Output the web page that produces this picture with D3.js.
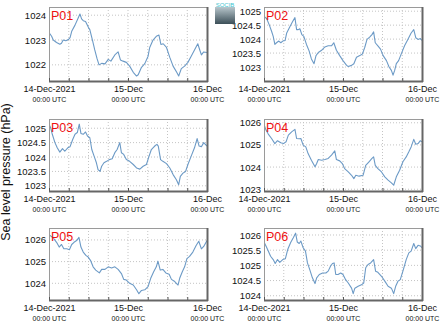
<!DOCTYPE html>
<html>
<head>
<meta charset="utf-8">
<script src="https://cdn.jsdelivr.net/npm/d3@7"></script>
<style>
  html, body { margin: 0; padding: 0; background: #fff; }
  svg { display: block; font-family: "Liberation Sans", Arial, sans-serif; }
</style>
</head>
<body>
<script>
// Sea level pressure at six stations, 14-16 Dec 2021
// each series: [hours since 14-Dec 00:00 UTC, hPa]
const stations = ["P01", "P02", "P03", "P04", "P05", "P06"]

const p01 = [[0,1023.3],[0.8,1023.15],[1.3,1023.0],[2.3,1022.9],[3.3,1022.83],[3.8,1022.87],[4.3,1023.0],[5.1,1022.97],[5.9,1023.02],[6.4,1023.1],[6.9,1023.35],[7.9,1023.6],[8.9,1023.9],[9.4,1024.05],[9.9,1023.85],[10.4,1023.78],[11.1,1023.75],[12.0,1023.5],[12.4,1023.42],[13.2,1023.0],[13.9,1022.6],[14.6,1022.25],[15.2,1022.0],[16.0,1022.06],[17.0,1022.04],[18.0,1022.22],[18.8,1022.15],[20.0,1022.4],[21.0,1022.52],[21.7,1022.2],[22.5,1022.15],[23.5,1022.1],[24.5,1021.95],[25.6,1021.7],[26.6,1021.55],[27.1,1021.6],[28.1,1021.9],[29.1,1022.05],[30.1,1022.35],[30.6,1022.7],[31.6,1023.0],[32.6,1023.15],[33.4,1023.2],[34.0,1022.82],[34.7,1022.85],[35.7,1022.7],[36.7,1022.3],[37.7,1021.95],[38.8,1021.7],[39.4,1021.55],[40.2,1021.85],[41.2,1021.95],[42.2,1022.1],[43.2,1022.35],[44.2,1022.6],[45.2,1022.85],[45.8,1022.6],[46.3,1022.4],[47.0,1022.52],[48,1022.5]]

const p02 = [[0,1024.81],[0.8,1024.74],[1.6,1024.51],[2.3,1024.28],[2.8,1024.1],[3.3,1023.81],[3.8,1023.87],[4.5,1023.93],[5.1,1023.87],[5.7,1023.93],[6.4,1023.95],[6.9,1024.22],[7.9,1024.45],[8.7,1024.63],[9.4,1024.77],[9.9,1024.34],[10.4,1024.34],[10.9,1024.37],[11.5,1024.16],[12.1,1024.1],[12.9,1023.81],[13.7,1023.58],[14.4,1023.29],[15.2,1023.12],[15.8,1023.41],[16.5,1023.52],[17.5,1023.6],[18.5,1023.72],[19.5,1023.76],[20.5,1023.76],[21.2,1023.87],[22.0,1023.6],[23.0,1023.41],[24.0,1023.23],[25.1,1023.06],[25.6,1023.02],[26.6,1023.06],[27.3,1023.12],[28.1,1023.35],[29.1,1023.41],[29.9,1023.47],[30.6,1023.7],[31.3,1023.99],[32.1,1024.07],[32.8,1024.16],[33.3,1024.26],[33.8,1023.87],[34.6,1023.76],[35.4,1023.64],[36.2,1023.41],[37.2,1023.23],[38.0,1023.0],[38.7,1022.88],[39.2,1022.71],[39.7,1022.88],[40.2,1023.12],[40.9,1023.23],[41.7,1023.47],[42.7,1023.76],[43.7,1023.99],[44.7,1024.22],[45.5,1024.34],[46.1,1024.05],[46.8,1023.99],[47.5,1024.02],[48,1023.95]]

const p03 = [[0,1025.14],[0.5,1025.02],[1.0,1024.79],[1.8,1024.5],[2.5,1024.32],[3.3,1024.17],[4.1,1024.29],[4.8,1024.2],[5.7,1024.32],[6.4,1024.36],[7.2,1024.61],[7.9,1024.79],[8.6,1024.85],[9.2,1025.14],[9.7,1024.82],[10.4,1024.79],[11.1,1024.87],[11.7,1024.73],[12.4,1024.67],[13.0,1024.26],[13.7,1024.03],[14.4,1023.8],[14.9,1023.56],[15.5,1023.5],[16.0,1023.68],[16.7,1023.8],[17.5,1023.85],[18.3,1023.91],[19.2,1023.94],[20.0,1024.15],[20.7,1024.26],[21.5,1024.5],[22.0,1024.15],[22.7,1024.09],[23.5,1023.91],[24.5,1023.85],[25.6,1023.74],[26.6,1023.62],[27.6,1023.58],[28.6,1023.68],[29.6,1023.74],[30.4,1024.03],[31.1,1024.26],[31.6,1024.32],[32.3,1024.4],[32.8,1024.44],[33.2,1024.38],[33.9,1023.91],[34.6,1023.85],[35.7,1023.77],[36.7,1023.62],[37.7,1023.39],[38.7,1023.21],[39.4,1023.04],[39.9,1023.33],[40.7,1023.44],[41.5,1023.5],[42.2,1023.74],[43.2,1024.03],[44.2,1024.32],[45.0,1024.64],[45.6,1024.38],[46.3,1024.36],[47.0,1024.5],[48,1024.38]]

const p04 = [[0,1025.94],[0.6,1025.67],[1.3,1025.49],[2.3,1025.29],[3.3,1025.06],[4.1,1025.19],[5.1,1025.1],[5.9,1025.06],[6.7,1025.14],[7.4,1025.44],[8.4,1025.59],[9.4,1025.7],[9.9,1025.29],[10.7,1025.28],[11.2,1025.29],[11.9,1024.99],[12.7,1024.91],[13.4,1024.61],[14.4,1024.31],[15.5,1024.01],[16.0,1024.16],[16.5,1024.34],[17.5,1024.31],[18.5,1024.34],[19.5,1024.39],[20.5,1024.54],[21.5,1024.73],[22.0,1024.34],[23.0,1024.28],[23.8,1024.16],[24.5,1023.93],[25.6,1023.78],[26.6,1023.63],[27.3,1023.48],[27.9,1023.63],[28.9,1023.59],[30.1,1023.63],[30.9,1024.08],[31.9,1024.24],[32.8,1024.39],[33.3,1024.46],[33.8,1024.08],[34.6,1023.93],[35.7,1023.78],[36.7,1023.56],[37.7,1023.41],[38.7,1023.29],[39.4,1023.18],[40.2,1023.56],[41.2,1023.86],[42.2,1024.24],[43.2,1024.46],[44.0,1024.69],[44.7,1024.91],[45.5,1025.25],[46.1,1025.03],[46.8,1025.06],[47.5,1025.19],[48,1025.14]]

const p05 = [[0,1026.24],[0.8,1026.15],[1.5,1026.05],[2.3,1025.89],[3.1,1025.67],[3.8,1025.79],[4.5,1025.59],[5.4,1025.59],[6.2,1025.55],[6.9,1025.79],[7.6,1025.89],[8.4,1025.97],[9.1,1026.12],[9.7,1025.67],[10.4,1025.44],[11.2,1025.29],[11.9,1025.21],[12.6,1025.06],[13.4,1024.76],[14.2,1024.61],[15.3,1024.48],[16.0,1024.64],[17.0,1024.64],[18.0,1024.76],[19.0,1024.71],[20.0,1024.76],[21.0,1024.64],[22.0,1024.45],[22.7,1024.18],[23.5,1024.15],[24.5,1024.0],[25.6,1023.92],[26.6,1023.7],[27.3,1023.52],[28.1,1023.67],[29.1,1023.7],[30.1,1023.85],[30.9,1024.23],[31.8,1024.53],[32.6,1024.76],[33.1,1025.02],[33.8,1024.61],[34.6,1024.64],[35.5,1024.48],[36.5,1024.42],[37.2,1024.18],[38.2,1024.08],[39.2,1023.92],[39.7,1024.23],[40.5,1024.53],[41.2,1024.76],[41.9,1025.14],[42.7,1025.24],[43.7,1025.44],[44.7,1025.74],[45.5,1025.94],[46.3,1025.59],[47.0,1025.7],[48,1025.97]]

const p06 = [[0,1025.77],[0.6,1025.64],[1.3,1025.47],[2.0,1025.3],[2.8,1025.19],[3.4,1025.06],[4.1,1025.19],[4.8,1025.1],[5.7,1025.19],[6.5,1025.22],[7.2,1025.52],[8.1,1025.75],[8.9,1025.91],[9.6,1026.06],[10.1,1025.77],[10.7,1025.72],[11.2,1025.8],[11.9,1025.58],[12.6,1025.47],[13.2,1025.08],[13.9,1024.86],[14.7,1024.59],[15.5,1024.4],[16.0,1024.59],[16.8,1024.7],[17.8,1024.75],[18.8,1024.75],[19.5,1024.81],[20.2,1024.97],[20.8,1025.06],[21.3,1025.08],[21.8,1024.7],[22.5,1024.7],[23.3,1024.75],[24.0,1024.7],[24.8,1024.53],[25.6,1024.42],[26.6,1024.25],[27.1,1024.07],[27.6,1024.25],[28.6,1024.31],[29.6,1024.36],[30.3,1024.42],[30.9,1024.92],[31.6,1025.03],[32.4,1025.08],[33.3,1025.19],[33.9,1024.81],[34.6,1024.77],[35.7,1024.64],[36.7,1024.48],[37.7,1024.31],[38.7,1024.25],[39.4,1024.07],[40.0,1024.31],[40.7,1024.48],[41.4,1024.53],[42.2,1024.81],[43.2,1025.19],[44.0,1025.41],[44.7,1025.47],[45.5,1025.72],[46.1,1025.55],[46.8,1025.66],[47.5,1025.64],[48,1025.58]]

const series = [p01, p02, p03, p04, p05, p06]

// y-axis limits and tick values per station (hPa)
const yLimits = [[1021.35, 1024.33], [1022.5, 1025.15], [1022.82, 1025.32], [1022.92, 1026.17], [1023.23, 1026.55], [1023.86, 1026.23]]
const yTickValues = [
  [1022, 1023, 1024],
  [1023, 1023.5, 1024, 1024.5, 1025],
  [1023, 1023.5, 1024, 1024.5, 1025],
  [1023, 1024, 1025, 1026],
  [1024, 1025, 1026],
  [1024, 1024.5, 1025, 1025.5, 1026]
]

const dayLabels = ["14-Dec-2021", "15-Dec", "16-Dec"]
const timeLabel = "00:00 UTC"
const yTitle = "Sea level pressure (hPa)"

const W = 441, H = 327
const colLeft = [49, 264]
const rowTop = [7, 119, 228]
const rowH = [74, 72, 72]
const plotW = 158
const lineColor = "#6c9ac6"

const t0 = Date.UTC(2021, 11, 14)
const HOUR = 3600e3
const toDate = h => new Date(t0 + h * HOUR)

const svg = d3.select("body").append("svg").attr("width", W).attr("height", H)

stations.forEach((name, i) => {
  const col = i % 2, row = Math.floor(i / 2)
  const w = plotW, h = rowH[row]

  const x = d3.scaleUtc().domain([toDate(0), toDate(48)]).range([0, w])
  const y = d3.scaleLinear().domain(yLimits[i]).range([h, 0])

  const g = svg.append("g").attr("transform", `translate(${colLeft[col]},${rowTop[row]})`)

  g.append("rect").attr("width", w).attr("height", h).attr("fill", "#fff")

  // dotted grid every 6 h and at each y tick
  const gridHours = d3.range(0, 49, 6).map(toDate)
  g.append("g")
    .selectAll("line")
    .data(gridHours.slice(1, -1))
    .join("line")
    .attr("x1", d => x(d)).attr("x2", d => x(d))
    .attr("y1", 0).attr("y2", h)
    .attr("stroke", "#c4c4c4")
    .attr("stroke-dasharray", "1,2")

  g.append("g")
    .selectAll("line")
    .data(yTickValues[i])
    .join("line")
    .attr("x1", 0).attr("x2", w)
    .attr("y1", d => y(d)).attr("y2", d => y(d))
    .attr("stroke", "#c4c4c4")
    .attr("stroke-dasharray", "1,2")

  // pressure trace
  const clipId = `clip-${name}`
  g.append("clipPath").attr("id", clipId)
    .append("rect").attr("width", w).attr("height", h)

  const line = d3.line()
    .x(d => x(toDate(d[0])))
    .y(d => y(d[1]))
    .curve(d3.curveLinear)

  g.append("path")
    .datum(series[i])
    .attr("clip-path", `url(#${clipId})`)
    .attr("fill", "none")
    .attr("stroke", lineColor)
    .attr("stroke-width", 1.1)
    .attr("stroke-linejoin", "round")
    .attr("d", line)

  // box: light top/left, heavier bottom/right
  g.append("rect")
    .attr("width", w).attr("height", h)
    .attr("fill", "none")
    .attr("stroke", "#9a9a9a")
    .attr("stroke-width", 1)
    .attr("shape-rendering", "crispEdges")

  // inward ticks on bottom
  g.append("g")
    .attr("transform", `translate(0,${h})`)
    .call(d3.axisBottom(x).tickValues(gridHours).tickSize(-3).tickFormat(""))
    .call(a => a.select(".domain").remove())
    .call(a => a.selectAll("line").attr("stroke", "#555"))

  g.append("line")
    .attr("x1", 0).attr("x2", w + 1)
    .attr("y1", h + 0.5).attr("y2", h + 0.5)
    .attr("stroke", "#666").attr("stroke-width", 2)
  g.append("line")
    .attr("x1", w + 0.5).attr("x2", w + 0.5)
    .attr("y1", 0).attr("y2", h + 1)
    .attr("stroke", "#666").attr("stroke-width", 2)

  // y axis labels
  g.append("g")
    .call(d3.axisLeft(y).tickValues(yTickValues[i]).tickSize(0).tickPadding(3).tickFormat(d3.format("~f")))
    .call(a => a.select(".domain").remove())
    .call(a => a.selectAll("text")
      .attr("font-size", 9.5)
      .attr("font-family", "Liberation Sans, Arial, sans-serif")
      .attr("fill", "#111"))

  // x axis: day label with time on a second line
  g.append("g")
    .attr("transform", `translate(0,${h})`)
    .call(d3.axisBottom(x).tickValues([toDate(0), toDate(24), toDate(48)]).tickSize(0).tickFormat(""))
    .call(a => a.select(".domain").remove())
    .call(a => a.selectAll(".tick text").each(function (d, k) {
      const t = d3.select(this).attr("y", 0).attr("dy", null).attr("fill", "#111")
        .attr("font-family", "Liberation Sans, Arial, sans-serif")
      t.append("tspan").attr("x", 0).attr("y", 11).attr("font-size", 9).text(dayLabels[k])
      t.append("tspan").attr("x", 0).attr("y", 20.5).attr("font-size", 7).text(timeLabel)
    }))

  // station name
  g.append("text")
    .attr("x", 2).attr("y", 13)
    .attr("font-size", 12.5)
    .attr("fill", "#ee1111")
    .text(name)
})

// shared y title
svg.append("text")
  .attr("transform", "translate(10,172) rotate(-90)")
  .attr("text-anchor", "middle")
  .attr("font-size", 12.5)
  .attr("fill", "#111")
  .text(yTitle)

// small institutional badge above the second column
const badge = svg.append("g").attr("transform", "translate(215,1)")
const grad = svg.append("defs").append("linearGradient")
  .attr("id", "badgeGrad").attr("x1", 0).attr("x2", 0).attr("y1", 0).attr("y2", 1)
grad.append("stop").attr("offset", "0%").attr("stop-color", "#b8c6cc")
grad.append("stop").attr("offset", "100%").attr("stop-color", "#3c4f58")
badge.append("rect").attr("x", 0).attr("y", 6).attr("width", 20).attr("height", 17).attr("fill", "url(#badgeGrad)")
badge.append("text").attr("x", 10).attr("y", 6).attr("text-anchor", "middle")
  .attr("font-size", 6).attr("fill", "#3ec4d0").text("SOCIB")
</script>
</body>
</html>
